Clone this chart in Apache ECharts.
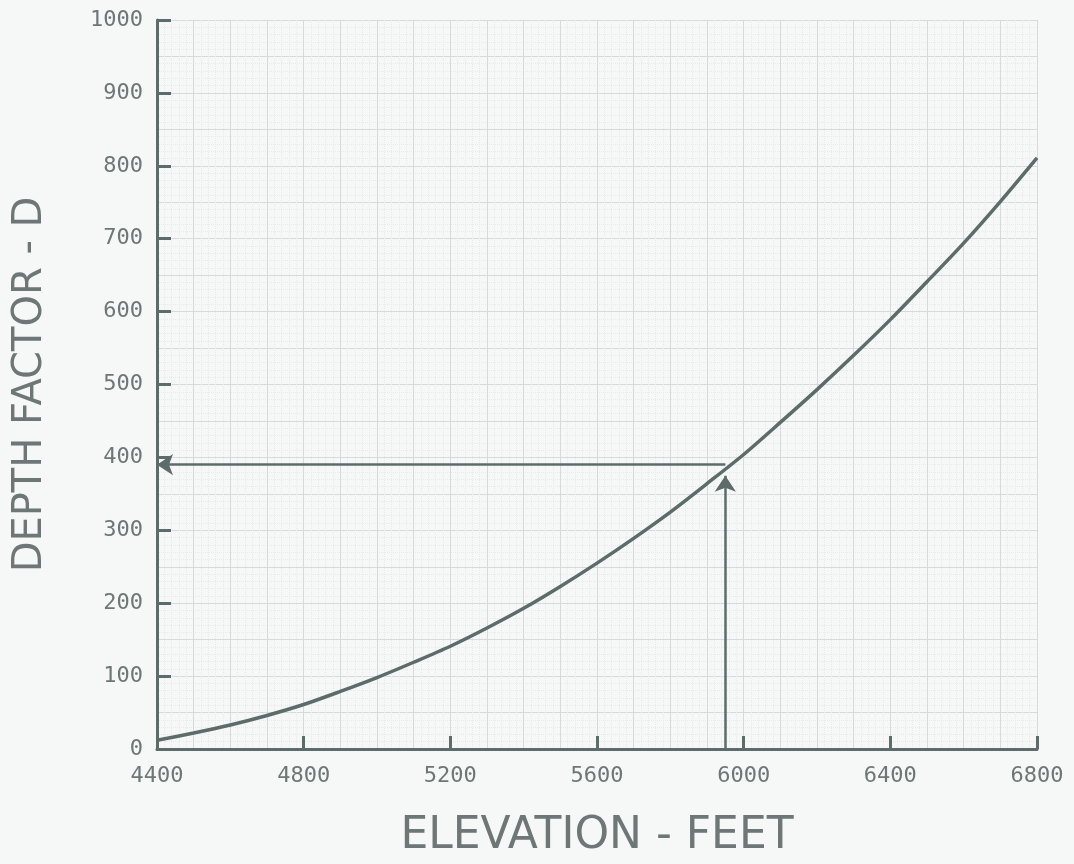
<!DOCTYPE html>
<html>
<head>
<meta charset="utf-8">
<script src="https://cdn.jsdelivr.net/npm/echarts@6/dist/echarts.min.js"></script>
<style>
html,body{margin:0;padding:0;background:#f6f7f7;}
#chart{width:1074px;height:864px;}
</style>
</head>
<body>
<div id="chart"></div>
<script>
// Data
const elevation = [4400, 4500, 4600, 4700, 4800, 4900, 5000, 5100, 5200, 5300, 5400, 5500, 5600,
                   5700, 5800, 5900, 6000, 6100, 6200, 6300, 6400, 6500, 6600, 6700, 6800];
const depthFactor = [12, 22, 33, 46, 61, 79, 98, 119, 141, 166, 193, 223, 255,
                     289, 325, 364, 404, 448, 493, 540, 589, 641, 694, 751, 811];
const readingElevation = 5950;
const readingDepth = 390;
const readingArrowTip = 375;
const xTitle = 'ELEVATION - FEET';
const yTitle = 'DEPTH FACTOR - D';

const ink = '#5d6c68';
const textColor = '#6e7775';
const gridColor = '#d6dada';
const dotColor = '#e9ebeb';

const chart = echarts.init(document.getElementById('chart'), null, {renderer: 'canvas'});
chart.setOption({
  backgroundColor: '#f6f7f7',
  animation: false,
  grid: {left: 157, right: 37, top: 20, bottom: 110, containLabel: false},
  xAxis: [
    {
      type: 'value', min: 4400, max: 6800, interval: 400, position: 'bottom',
      name: xTitle, nameLocation: 'middle', nameGap: 66,
      nameTextStyle: {fontFamily: 'DejaVu Sans', fontSize: 44, color: textColor},
      axisLine: {show: true, onZero: false, lineStyle: {color: ink, width: 3}},
      axisTick: {show: true, inside: true, length: 13, lineStyle: {color: ink, width: 3}},
      axisLabel: {margin: 16, fontFamily: 'DejaVu Sans Mono', fontSize: 22, color: textColor,
                  formatter: v => String(v)},
      splitLine: {show: false}
    },
    {
      type: 'value', min: 4400, max: 6800, interval: 100, position: 'bottom',
      axisLine: {show: false}, axisTick: {show: false}, axisLabel: {show: false},
      splitLine: {show: true, lineStyle: {color: gridColor, width: 1}},
      minorTick: {show: false, splitNumber: 5},
      minorSplitLine: {show: true, lineStyle: {color: dotColor, width: 1, type: 'dotted'}}
    }
  ],
  yAxis: [
    {
      type: 'value', min: 0, max: 1000, interval: 100, position: 'left',
      name: yTitle, nameLocation: 'middle', nameGap: 106, nameRotate: 90,
      nameTextStyle: {fontFamily: 'DejaVu Sans', fontSize: 40, color: textColor},
      axisLine: {show: true, onZero: false, lineStyle: {color: ink, width: 3}},
      axisTick: {show: true, inside: true, length: 14, lineStyle: {color: ink, width: 3}},
      axisLabel: {margin: 14, fontFamily: 'DejaVu Sans Mono', fontSize: 22, color: textColor,
                  formatter: v => String(v)},
      splitLine: {show: false}
    },
    {
      type: 'value', min: 0, max: 1000, interval: 50, position: 'left',
      axisLine: {show: false}, axisTick: {show: false}, axisLabel: {show: false},
      splitLine: {show: true, lineStyle: {color: gridColor, width: 1}},
      minorTick: {show: false, splitNumber: 5},
      minorSplitLine: {show: true, lineStyle: {color: dotColor, width: 1, type: 'dotted'}}
    }
  ],
  series: [
    {
      type: 'line', xAxisIndex: 0, yAxisIndex: 0,
      data: elevation.map((e, i) => [e, depthFactor[i]]),
      smooth: 0.3, showSymbol: false,
      lineStyle: {color: ink, width: 3.5},
      z: 5
    },
    {
      type: 'lines', coordinateSystem: 'cartesian2d', xAxisIndex: 0, yAxisIndex: 0,
      symbol: ['none', 'arrow'], symbolSize: [9, 16],
      lineStyle: {color: ink, width: 2.5, opacity: 1},
      data: [
        {coords: [[readingElevation, readingDepth], [4400, readingDepth]]},
        {coords: [[readingElevation, 0], [readingElevation, readingArrowTip]]}
      ],
      z: 4
    }
  ]
});
</script>
</body>
</html>
